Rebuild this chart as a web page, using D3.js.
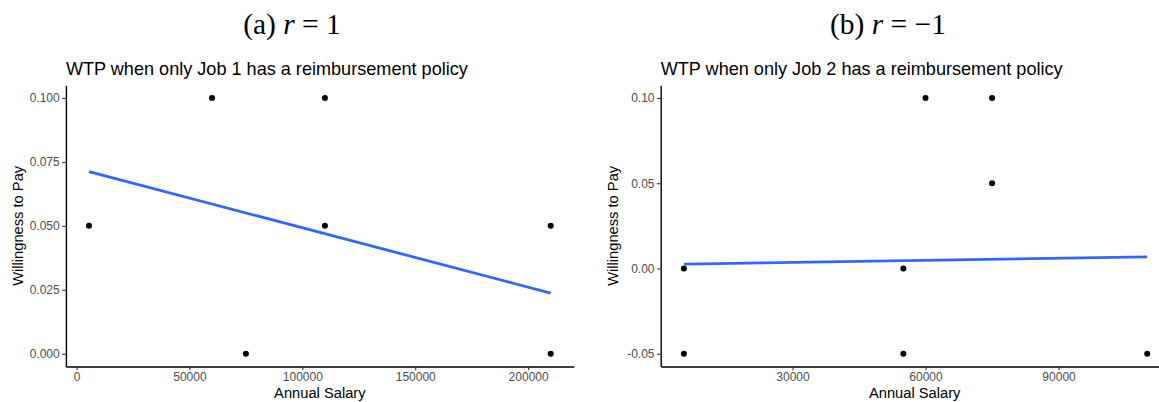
<!DOCTYPE html>
<head>
    <meta charset="utf-8">
    <script src="https://d3js.org/d3.v7.min.js"></script>
    <style>
    body { margin: 0; background: #fff; }
    .tick text { font-family: "Liberation Sans", Arial, sans-serif; font-size: 12px; fill: #4d4d4d; }
    .tick line { stroke: #333; stroke-width: 1.1; }
    .domain { stroke: #000; stroke-width: 1.4; }
    </style>
</head>
<body>
<div id="chart"></div>
<script>
// data
var salaryA = [5500, 60000, 75000, 110000, 110000, 210000, 210000];
var wtpA    = [0.05, 0.10,  0.00,  0.10,   0.05,   0.05,   0.00];
var fitA    = [[5500, 0.0712], [210000, 0.0237]];
var yTicksA = [0, 0.025, 0.05, 0.075, 0.1];
var xTicksA = [0, 50000, 100000, 150000, 200000];

var salaryB = [5500, 5500, 55000, 55000, 60000, 75000, 75000, 110000];
var wtpB    = [0.00, -0.05, 0.00, -0.05, 0.10,  0.10,  0.05,  -0.05];
var fitB    = [[5500, 0.0025], [110000, 0.0068]];
var yTicksB = [-0.05, 0, 0.05, 0.1];
var xTicksB = [30000, 60000, 90000];

var W = 1159, H = 402;
var svg = d3.select("#chart").append("svg")
    .attr("width", W).attr("height", H);

// ggplot style 5% expansion
function expand(ext) {
  var d = (ext[1] - ext[0]) * 0.05;
  return [ext[0] - d, ext[1] + d];
}
function minus(s) { return s.replace("\u2212", "-"); }

var panels = [
  { xs: salaryA, ys: wtpA, fit: fitA, yt: yTicksA, xt: xTicksA, yfmt: ".3f",
    left: 65.9, right: 573.8, capX: 292, cap: ["(a) ", "r", " = 1"],
    title: "WTP when only Job 1 has a reimbursement policy" },
  { xs: salaryB, ys: wtpB, fit: fitB, yt: yTicksB, xt: xTicksB, yfmt: ".2f",
    left: 660.7, right: 1170.4, capX: 888, cap: ["(b) ", "r", " = \u22121"],
    title: "WTP when only Job 2 has a reimbursement policy" }
];
var plotTop = 85.2, plotBottom = 366.5;

panels.forEach(function(p) {
  var x = d3.scaleLinear().domain(expand(d3.extent(p.xs))).range([p.left, p.right]);
  var y = d3.scaleLinear().domain(expand(d3.extent(p.ys))).range([plotBottom, plotTop]);

  // sub-figure caption
  var cap = svg.append("text")
      .attr("x", p.capX).attr("y", 34)
      .attr("text-anchor", "middle")
      .style("font-family", "'Liberation Serif', 'DejaVu Serif', serif")
      .style("font-size", "29.5px");
  cap.append("tspan").text(p.cap[0]);
  cap.append("tspan").style("font-style", "italic").text(p.cap[1]);
  cap.append("tspan").text(p.cap[2]);

  // plot title
  svg.append("text")
      .attr("x", p.left).attr("y", 75)
      .style("font-family", "'Liberation Sans', Arial, sans-serif")
      .style("font-size", "18.1px")
      .text(p.title);

  // axes
  svg.append("g")
      .attr("transform", "translate(0," + plotBottom + ")")
      .call(d3.axisBottom(x).tickValues(p.xt).tickFormat(d3.format("d"))
            .tickSize(3.7).tickSizeOuter(0).tickPadding(2.5));
  svg.append("g")
      .attr("transform", "translate(" + p.left + ",0)")
      .call(d3.axisLeft(y).tickValues(p.yt)
            .tickFormat(function(d) { return minus(d3.format(p.yfmt)(d)); })
            .tickSize(3.7).tickSizeOuter(0).tickPadding(2.5));

  // axis titles
  svg.append("text")
      .attr("x", (p.left + Math.min(p.right, 573.8 + (p.left - 65.9))) / 2)
      .attr("y", 398)
      .attr("text-anchor", "middle")
      .style("font-family", "'Liberation Sans', Arial, sans-serif")
      .style("font-size", "14.7px")
      .text("Annual Salary");
  svg.append("text")
      .attr("transform", "translate(" + (p.left - 43) + "," + ((plotTop + plotBottom) / 2) + ") rotate(-90)")
      .attr("text-anchor", "middle")
      .style("font-family", "'Liberation Sans', Arial, sans-serif")
      .style("font-size", "14.7px")
      .text("Willingness to Pay");

  // points
  svg.append("g").selectAll("circle")
    .data(p.xs.map(function(v, i) { return [v, p.ys[i]]; }))
    .enter().append("circle")
      .attr("cx", function(d) { return x(d[0]); })
      .attr("cy", function(d) { return y(d[1]); })
      .attr("r", 3)
      .attr("fill", "#000");

  // fitted line
  svg.append("path")
    .datum(p.fit)
    .attr("fill", "none")
    .attr("stroke", "#3366FF")
    .attr("stroke-width", 2.8)
    .attr("d", d3.line()
      .x(function(d) { return x(d[0]); })
      .y(function(d) { return y(d[1]); }));
});
</script>
</body>
</html>
